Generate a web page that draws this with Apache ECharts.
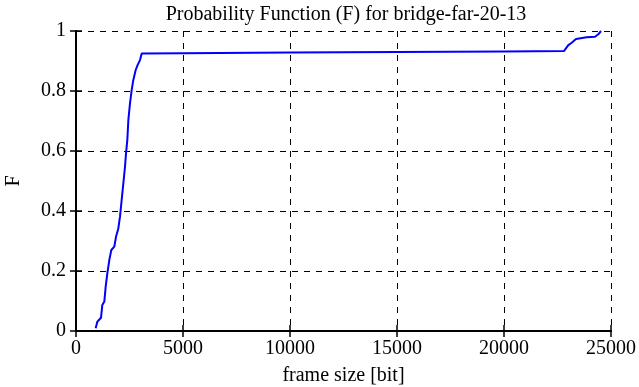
<!DOCTYPE html>
<html><head><meta charset="utf-8">
<script src="https://cdn.jsdelivr.net/npm/echarts@6/dist/echarts.min.js"></script>
<style>html,body{margin:0;padding:0;background:#fff}#c{width:639px;height:387px}</style>
</head><body><div id="c"></div>
<script>
const frameSize = [920, 996, 1168, 1230, 1324, 1387, 1464, 1558, 1651, 1791, 1869, 1978, 2056, 2134, 2212, 2290, 2337, 2399, 2446, 2523, 2601, 2679, 2789, 2882, 2991, 3070, 5000, 10000, 15000, 20000, 22800, 23006, 23162, 23364, 23864, 24252, 24407, 24533];
const probF = [0.009, 0.031, 0.044, 0.087, 0.098, 0.148, 0.192, 0.237, 0.27, 0.281, 0.314, 0.342, 0.381, 0.437, 0.492, 0.548, 0.592, 0.637, 0.703, 0.759, 0.803, 0.837, 0.87, 0.887, 0.903, 0.925, 0.926, 0.928, 0.930, 0.932, 0.933, 0.953, 0.961, 0.973, 0.979, 0.981, 0.989, 1.0];
const xTicks = [0, 5000, 10000, 15000, 20000, 25000];
const yTicks = [0, 0.2, 0.4, 0.6, 0.8, 1];
const titleText = 'Probability Function (F) for bridge-far-20-13';

const font = 'Liberation Serif';
const fs = 20;
const chart = echarts.init(document.getElementById('c'));
const pts = frameSize.map((x, i) => [x, probF[i]]);
const axisCommon = {
  axisLine: {show: true, lineStyle: {color: '#000', width: 2}},
  axisTick: {show: true, inside: true, length: 6, lineStyle: {color: '#000', width: 1.5}},
};
chart.setOption({
  animation: false,
  title: {text: titleText, left: 341, textAlign: 'center', top: 0,
    textStyle: {fontFamily: font, fontSize: fs, fontWeight: 'normal', color: '#000'}},
  grid: {left: 76, right: 28, top: 31, bottom: 56, show: false, containLabel: false, outerBoundsMode: 'none'},
  xAxis: [{
    type: 'value', min: xTicks[0], max: xTicks[xTicks.length - 1], interval: 5000,
    name: 'frame size [bit]', nameLocation: 'middle', nameGap: 35,
    nameTextStyle: {fontFamily: font, fontSize: fs, color: '#000'},
    axisLabel: {fontFamily: font, fontSize: fs, color: '#000', margin: 8, formatter: v => String(v)},
    splitLine: {show: true, lineStyle: {color: '#000', type: [6, 6], width: 1}},
    ...axisCommon
  }, {
    type: 'value', position: 'top', min: xTicks[0], max: xTicks[xTicks.length - 1], interval: 5000,
    axisLabel: {show: false}, splitLine: {show: false}, ...axisCommon
  }],
  yAxis: [{
    type: 'value', min: yTicks[0], max: yTicks[yTicks.length - 1], interval: 0.2,
    name: 'F', nameLocation: 'middle', nameGap: 52,
    nameTextStyle: {fontFamily: font, fontSize: fs, color: '#000'},
    axisLabel: {fontFamily: font, fontSize: fs, color: '#000', margin: 10,
      formatter: v => String(Math.round(v * 10) / 10)},
    splitLine: {show: true, lineStyle: {color: '#000', type: [6, 6], width: 1}},
    ...axisCommon
  }, {
    type: 'value', position: 'right', min: yTicks[0], max: yTicks[yTicks.length - 1], interval: 0.2,
    axisLabel: {show: false}, splitLine: {show: false}, ...axisCommon
  }],
  series: [{
    type: 'line', data: pts, showSymbol: false, xAxisIndex: 0, yAxisIndex: 0,
    lineStyle: {color: '#0000ff', width: 2}, z: 5
  }]
});
</script></body></html>
